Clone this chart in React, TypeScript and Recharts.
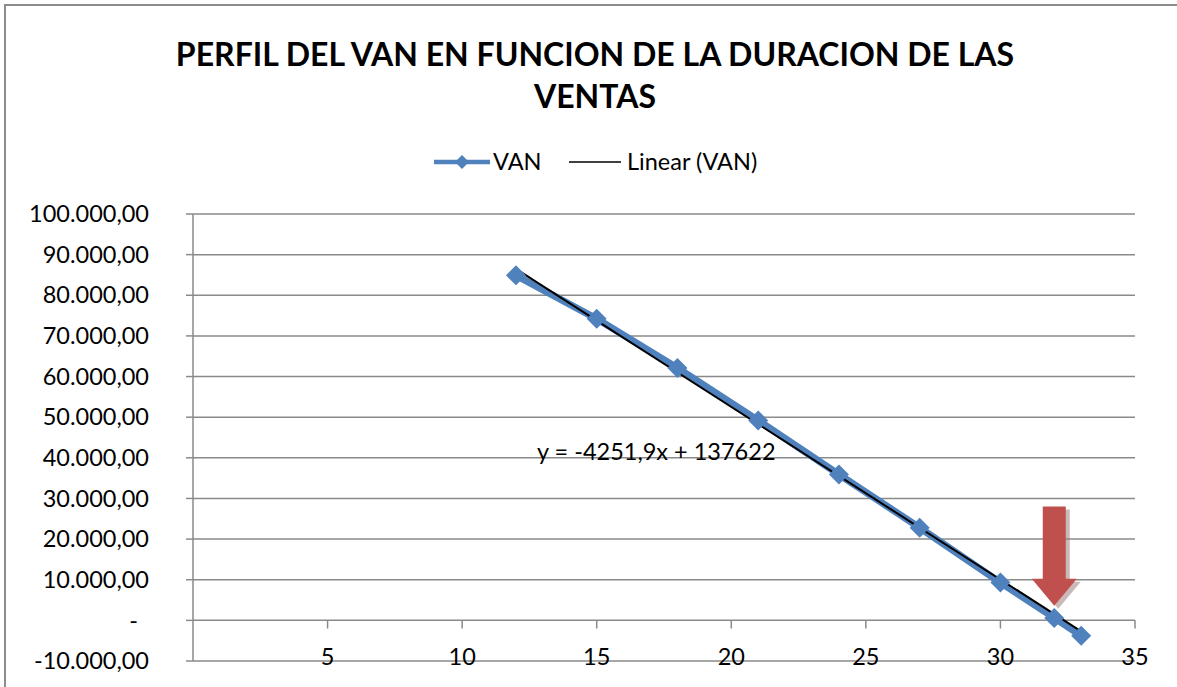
import {
  CartesianGrid,
  ComposedChart,
  Line,
  ReferenceDot,
  ReferenceLine,
  XAxis,
  YAxis
} from "recharts";

const duracion = [12, 15, 18, 21, 24, 27, 30, 32, 33];
const van = [84900, 74200, 62100, 49200, 35900, 22800, 9300, 600, -3800];
const tendenciaX = [12, 33];
const tendenciaY = [86500, -2700];
const xTicks = [5, 10, 15, 20, 25, 30, 35];
const yTicks = [-10000, 0, 10000, 20000, 30000, 40000, 50000, 60000, 70000, 80000, 90000, 100000];
const ecuacion = "y = -4251,9x + 137622";
const ecuacionPos = { x: 12.78, y: 39500 };
const flecha = { x: 32, desde: 28000, hasta: 3600 };

const FONT = "Lato, 'Open Sans', sans-serif";
const BLUE = "#4F81BD";
const GRID = "#8a8a8a";

const vanData = duracion.map((x, i) => ({ x, y: van[i] }));
const trendData = tendenciaX.map((x, i) => ({ x, y: tendenciaY[i] }));

function formatNum(v: number) {
  if (v === 0) return "-";
  const abs = Math.abs(v);
  const s = String(Math.round(abs)).replace(/\B(?=(\d{3})+(?!\d))/g, ".");
  return `${v < 0 ? "-" : ""}${s},00`;
}

const YTick = (props: any) => {
  const { x, y, payload } = props;
  const zero = payload.value === 0;
  return (
    <text
      x={zero ? x - 11 : x}
      y={y}
      dy="0.35em"
      textAnchor="end"
      fill="#000"
      fontFamily={FONT}
      fontSize={23.5}
    >
      {formatNum(payload.value)}
    </text>
  );
};

const XTick = (props: any) => {
  const { x, y, payload } = props;
  return (
    <text x={x} y={y} dy={4} textAnchor="middle" fill="#000" fontFamily={FONT} fontSize={23.5}>
      {payload.value}
    </text>
  );
};

const Diamond = (props: any) => {
  const { cx, cy, index } = props;
  const r = 10;
  return (
    <polygon
      key={`d-${index}`}
      points={`${cx},${cy - r} ${cx + r},${cy} ${cx},${cy + r} ${cx - r},${cy}`}
      fill={BLUE}
    />
  );
};

const Arrow = (props: any) => {
  const { x1, y1, y2 } = props;
  const shaft = 11.5;
  const head = 22.5;
  const headH = 27;
  const pts = [
    [x1 - shaft, y1],
    [x1 + shaft, y1],
    [x1 + shaft, y2 - headH],
    [x1 + head, y2 - headH],
    [x1, y2],
    [x1 - head, y2 - headH],
    [x1 - shaft, y2 - headH]
  ]
    .map((p) => p.join(","))
    .join(" ");
  return (
    <g>
      <polygon points={pts} fill="#9c7f7f" opacity={0.55} transform="translate(4,3)" />
      <polygon points={pts} fill="#C0504D" />
    </g>
  );
};

const EquationLabel = (props: any) => (
  <text x={props.cx} y={props.cy} fill="#000" fontFamily={FONT} fontSize={23.5}>
    {ecuacion}
  </text>
);

export default function App() {
  return (
    <div
      style={{
        position: "absolute",
        left: 0,
        top: 0,
        width: 1177,
        height: 687,
        background: "#fff",
        overflow: "hidden",
        fontFamily: FONT
      }}
    >
      <div
        style={{
          position: "absolute",
          left: 4,
          top: 4,
          width: 1400,
          height: 900,
          borderLeft: "2px solid #8c8c8c",
          borderTop: "2px solid #8c8c8c"
        }}
      />
      <div
        style={{
          position: "absolute",
          left: 0,
          top: 33,
          width: 1190,
          textAlign: "center",
          fontWeight: 700,
          fontSize: 32,
          lineHeight: "42px",
          color: "#000"
        }}
      >
        PERFIL DEL VAN EN FUNCION DE LA DURACION DE LAS
        <br />
        VENTAS
      </div>
      <svg style={{ position: "absolute", left: 0, top: 140 }} width={1177} height={44}>
        <line x1={434} y1={22} x2={490} y2={22} stroke={BLUE} strokeWidth={4.5} />
        <polygon points="462,15 469,22 462,29 455,22" fill={BLUE} />
        <text x={493} y={30} fontFamily={FONT} fontSize={23.5} fill="#000">
          VAN
        </text>
        <line x1={569} y1={22} x2={621} y2={22} stroke="#000" strokeWidth={1.5} />
        <text x={627} y={30} fontFamily={FONT} fontSize={23.5} fill="#000">
          Linear (VAN)
        </text>
      </svg>
      <div style={{ position: "absolute", left: 0, top: 0 }}>
        <ComposedChart
          width={1177}
          height={687}
          margin={{ top: 214, right: 42, bottom: 0, left: 0 }}
        >
          <CartesianGrid vertical={false} stroke={GRID} strokeWidth={1.5} />
          <XAxis
            type="number"
            dataKey="x"
            domain={[0, 35]}
            ticks={xTicks}
            axisLine={false}
            tickLine={false}
            tickSize={0}
            tickMargin={0}
            height={26}
            tick={<XTick />}
            allowDataOverflow
          />
          <YAxis
            type="number"
            domain={[-10000, 100000]}
            ticks={yTicks}
            width={193}
            axisLine={{ stroke: GRID, strokeWidth: 1.5 }}
            tickLine={{ stroke: GRID, strokeWidth: 1.5 }}
            tickSize={7}
            tickMargin={37}
            tick={<YTick />}
            interval={0}
            allowDataOverflow
          />
          {xTicks.map((t) => (
            <ReferenceLine
              key={`xt-${t}`}
              segment={[
                { x: t, y: 0 },
                { x: t, y: -2000 }
              ]}
              stroke={GRID}
              strokeWidth={1.5}
              ifOverflow="visible"
            />
          ))}
          <Line
            data={vanData}
            dataKey="y"
            stroke={BLUE}
            strokeWidth={7}
            strokeLinejoin="round"
            dot={<Diamond />}
            isAnimationActive={false}
            name="VAN"
          />
          <Line
            data={trendData}
            dataKey="y"
            stroke="#000"
            strokeWidth={2}
            dot={false}
            isAnimationActive={false}
            name="Linear (VAN)"
          />
          <ReferenceDot
            x={ecuacionPos.x}
            y={ecuacionPos.y}
            r={0}
            shape={<EquationLabel />}
            ifOverflow="visible"
          />
          <ReferenceLine
            segment={[
              { x: flecha.x, y: flecha.desde },
              { x: flecha.x, y: flecha.hasta }
            ]}
            shape={<Arrow />}
            ifOverflow="visible"
          />
        </ComposedChart>
      </div>
    </div>
  );
}
